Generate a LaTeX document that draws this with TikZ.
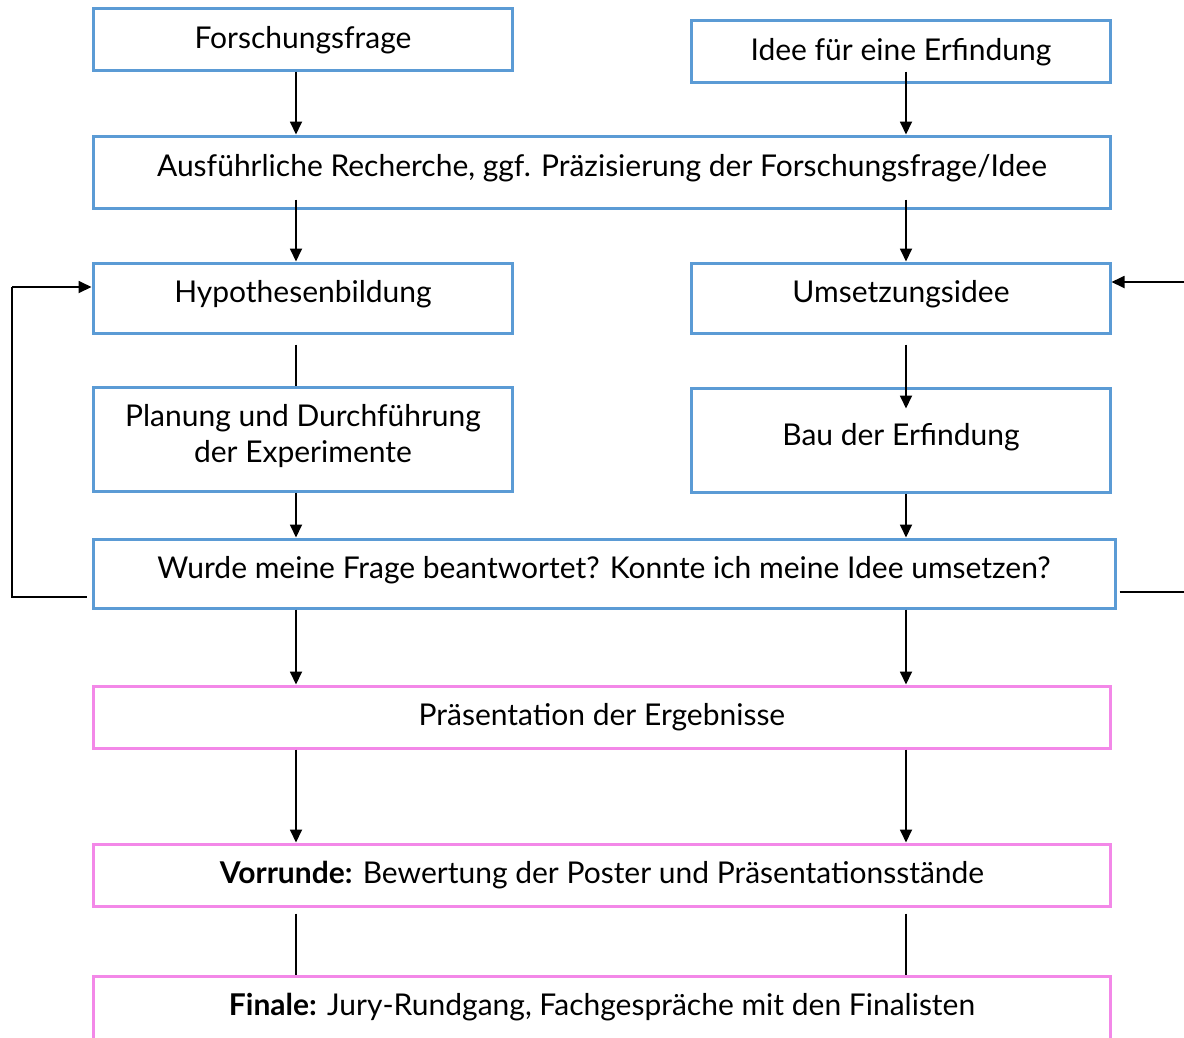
\documentclass[tikz,border=0pt]{standalone}
\usepackage{fontspec}
\setmainfont{Lato}
\usetikzlibrary{arrows.meta}
\definecolor{boxblue}{HTML}{5B9BD5}
\definecolor{boxpink}{HTML}{F388E8}
\begin{document}
\begin{tikzpicture}[x=1pt,y=-1pt,
  bbox/.style={draw=boxblue,line width=3pt,inner sep=0pt},
  pbox/.style={bbox,draw=boxpink},
  txt/.style={font=\fontsize{30}{36}\selectfont,align=center,inner sep=0pt},
  arr/.style={line width=1.8pt,-{Triangle[length=13pt,width=12pt]}},
  ln/.style={line width=1.8pt}]
\useasboundingbox (0,0) rectangle (1184,1037);
\begin{scope}
\clip (0,0) rectangle (1184,1037);
\node[bbox,minimum width=419pt,minimum height=62pt] (ff) at (302.5,39) {};
\node[bbox,minimum width=419pt,minimum height=62pt] (idee) at (900.5,51) {};
\node[bbox,minimum width=1017pt,minimum height=72pt] (rech) at (601.5,172) {};
\node[bbox,minimum width=419pt,minimum height=70pt] (hyp) at (302.5,298) {};
\node[bbox,minimum width=419pt,minimum height=70pt] (ums) at (900.5,298) {};
\node[bbox,minimum width=419pt,minimum height=104pt] (plan) at (302.5,439) {};
\node[bbox,minimum width=419pt,minimum height=104pt] (bau) at (900.5,440) {};
\node[bbox,minimum width=1022pt,minimum height=69pt] (wurde) at (604,573.5) {};
\node[pbox,minimum width=1017pt,minimum height=62pt] (praes) at (601.5,717) {};
\node[pbox,minimum width=1017pt,minimum height=62pt] (vor) at (601.5,875) {};
\node[pbox,minimum width=1017pt,minimum height=80pt] (fin) at (601.5,1016) {};
\end{scope}
\node[txt] (t1) at (303,40) {Forschungsfrage};
\node[txt] (t2) at (901,52) {Idee für eine Erfindung};
\node[txt] (t3) at (602,168) {Ausführliche Recherche, ggf. Präzisierung der Forschungsfrage/Idee};
\node[txt] (t4) at (303,294) {Hypothesenbildung};
\node[txt] (t5) at (901,294) {Umsetzungsidee};
\node[txt] (t6) at (303,436) {Planung und Durchführung\\der Experimente};
\node[txt] (t7) at (901,437) {Bau der Erfindung};
\node[txt] (t8) at (604,570) {Wurde meine Frage beantwortet? Konnte ich meine Idee umsetzen?};
\node[txt] (t9) at (602,717) {Präsentation der Ergebnisse};
\node[txt] (t10) at (602,875) {\textbf{Vorrunde:} Bewertung der Poster und Präsentationsstände};
\node[txt] (t11) at (602,1007) {\textbf{Finale:} Jury-Rundgang, Fachgespräche mit den Finalisten};
% left column connectors
\draw[arr] (ff.south -| 296,0) -- (rech.north -| 296,0);
\draw[arr] ([yshift=10pt]rech.south -| 296,0) -- (hyp.north -| 296,0);
\draw[ln] ([yshift=-10pt]hyp.south -| 296,0) -- (plan.north -| 296,0);
\draw[arr] (plan.south -| 296,0) -- (wurde.north -| 296,0);
\draw[arr] (wurde.south -| 296,0) -- (praes.north -| 296,0);
\draw[arr] (praes.south -| 296,0) -- (vor.north -| 296,0);
\draw[ln] ([yshift=-6pt]vor.south -| 296,0) -- (fin.north -| 296,0);
% right column connectors
\draw[arr] ([yshift=12pt]idee.south -| 906,0) -- (rech.north -| 906,0);
\draw[arr] ([yshift=10pt]rech.south -| 906,0) -- (ums.north -| 906,0);
\draw[arr] ([yshift=-10pt]ums.south -| 906,0) -- ([yshift=-22pt]bau.north -| 906,0);
\draw[arr] (bau.south -| 906,0) -- (wurde.north -| 906,0);
\draw[arr] (wurde.south -| 906,0) -- (praes.north -| 906,0);
\draw[arr] (praes.south -| 906,0) -- (vor.north -| 906,0);
\draw[ln] ([yshift=-6pt]vor.south -| 906,0) -- (fin.north -| 906,0);
% loops
\coordinate (lb) at (12,597);
\coordinate (lt) at (12,287);
\draw[ln] ([xshift=-5pt]wurde.west |- lb) -- (lb) -- (lt);
\draw[arr] (lt) -- (hyp.west |- lt);
\coordinate (rb) at (1184,592);
\coordinate (rt) at (1184,282);
\draw[ln] ([xshift=3pt]wurde.east |- rb) -- (rb);
\draw[arr] (rt) -- (ums.east |- rt);
\end{tikzpicture}
\end{document}
